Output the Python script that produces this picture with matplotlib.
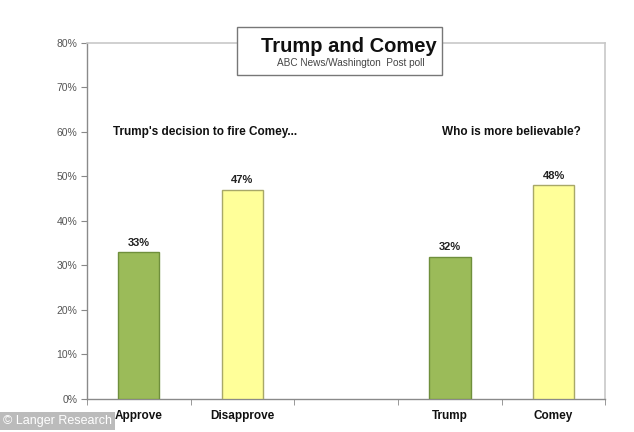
import matplotlib
matplotlib.use("Agg")
import matplotlib.pyplot as plt
from matplotlib.patches import Rectangle

categories = ["Approve", "Disapprove", "", "Trump", "Comey"]
values = [33, 47, None, 32, 48]
bar_colors = ["#9bbb59", "#ffff99", None, "#9bbb59", "#ffff99"]
edge_colors = ["#6f8f3c", "#a8a868", None, "#6f8f3c", "#a8a868"]
yticks = [0, 10, 20, 30, 40, 50, 60, 70, 80]
title = "Trump and Comey"
subtitle = "ABC News/Washington  Post poll"
group_labels = ["Trump's decision to fire Comey...", "Who is more believable?"]

fig = plt.figure(figsize=(6.34, 4.32), dpi=100)
fig.patch.set_facecolor("white")
ax = fig.add_axes([0.137, 0.0764, 0.818, 0.8241])

xs = list(range(len(categories)))
for x, v, c, e in zip(xs, values, bar_colors, edge_colors):
    if v is None:
        continue
    ax.bar(x, v, width=0.4, color=c, edgecolor=e, linewidth=1.0, zorder=3)
    ax.text(x, v + 1.0, f"{v}%", ha="center", va="bottom", fontsize=8,
            fontweight="bold", color="#222222", family="Liberation Sans")

ax.set_xlim(-0.5, len(categories) - 0.5)
ax.set_ylim(0, 80)
ax.set_yticks(yticks)
ax.set_yticklabels([f"{t}%" for t in yticks], fontsize=7.5, color="#555555",
                   family="Liberation Sans")
ax.set_xticks(xs)
ax.set_xticklabels(categories, fontsize=8.5, fontweight="bold", color="#111111",
                   family="Liberation Sans")
ax.set_xticks([x - 0.5 for x in range(len(categories) + 1)], minor=True)
ax.tick_params(axis="x", which="major", length=0, pad=8)
ax.tick_params(axis="x", which="minor", length=4, color="#888888", direction="out")
ax.tick_params(axis="y", length=4, color="#888888", direction="out", pad=3)

for s in ["left", "bottom"]:
    ax.spines[s].set_color("#8a8a8a")
    ax.spines[s].set_linewidth(1.0)
for s in ["top", "right"]:
    ax.spines[s].set_color("#c8c8c8")
    ax.spines[s].set_linewidth(1.2)

ax.text(-0.25, 60, group_labels[0], ha="left", va="center", fontsize=8.5,
        fontweight="bold", color="#111111", family="Liberation Sans")
ax.text(2.92, 60, group_labels[1], ha="left", va="center", fontsize=8.5,
        fontweight="bold", color="#111111", family="Liberation Sans")

# title box
box = Rectangle((237 / 634, 1 - 75 / 432), (442 - 237) / 634, (75 - 27) / 432,
                transform=fig.transFigure, facecolor="white", edgecolor="#777777",
                linewidth=1.0, zorder=5)
fig.patches.append(box)
fig.text(349 / 634, 1 - 46 / 432, title, ha="center", va="center", fontsize=14.5,
         fontweight="bold", color="#111111", family="Liberation Sans", zorder=6)
fig.text(351 / 634, 1 - 63 / 432, subtitle, ha="center", va="center", fontsize=7.2,
         color="#444444", family="Liberation Sans", zorder=6)

# watermark
fig.text(0.004, 0.012, "\u00a9 Langer Research", ha="left", va="bottom", fontsize=9,
         color="white", family="Liberation Sans", zorder=10,
         bbox=dict(boxstyle="square,pad=0.25", facecolor="#b0b0b0", edgecolor="none",
                   alpha=0.85))

fig.savefig("out.png", dpi=100, facecolor="white")
